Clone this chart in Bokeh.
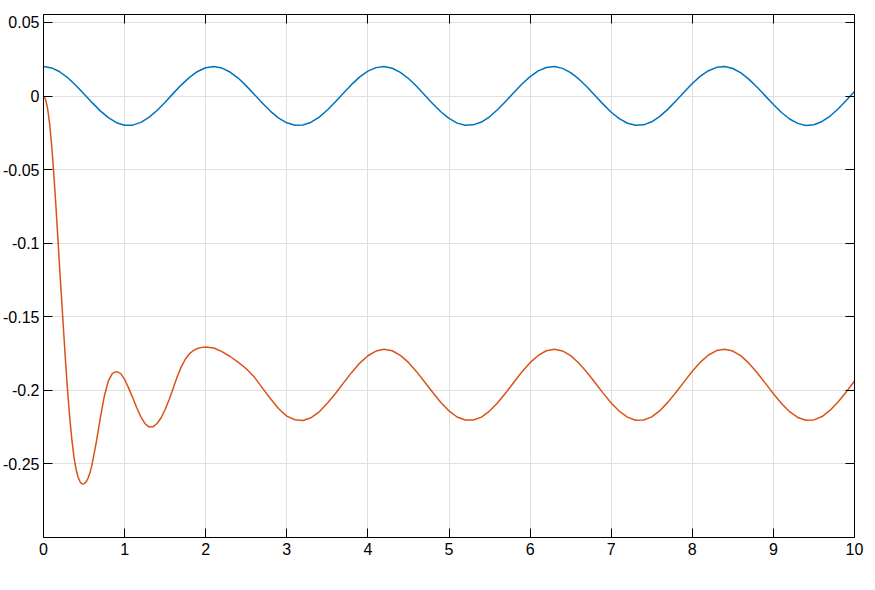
import numpy as np
from bokeh.plotting import figure
from bokeh.models import LinearAxis, FixedTicker, CustomJSTickFormatter, Range1d
from bokeh.embed import file_html
from bokeh.resources import INLINE

# ---------------- data ----------------
x_ticks = [0, 1, 2, 3, 4, 5, 6, 7, 8, 9, 10]
y_ticks = [-0.25, -0.2, -0.15, -0.1, -0.05, 0, 0.05]

# time grid (s)
t_grid = [round(i * 0.1, 1) for i in range(101)]

# blue series
blue_y = [
    0.0200, 0.0191, 0.0165, 0.0124, 0.0072, 0.0014, -0.0045, -0.0101, -0.0147, -0.0181,
    -0.0198, -0.0198, -0.0179, -0.0145, -0.0098, -0.0042, 0.0018, 0.0076, 0.0127, 0.0167,
    0.0192, 0.0200, 0.0190, 0.0163, 0.0122, 0.0069, 0.0011, -0.0049, -0.0104, -0.0150,
    -0.0182, -0.0198, -0.0197, -0.0178, -0.0143, -0.0095, -0.0039, 0.0021, 0.0079, 0.0130,
    0.0169, 0.0193, 0.0200, 0.0189, 0.0161, 0.0119, 0.0066, 0.0007, -0.0052, -0.0107,
    -0.0152, -0.0184, -0.0199, -0.0196, -0.0177, -0.0141, -0.0092, -0.0036, 0.0024, 0.0082,
    0.0132, 0.0171, 0.0194, 0.0200, 0.0188, 0.0159, 0.0116, 0.0063, 0.0004, -0.0055,
    -0.0110, -0.0154, -0.0185, -0.0199, -0.0196, -0.0175, -0.0138, -0.0089, -0.0032, 0.0027,
    0.0085, 0.0135, 0.0172, 0.0195, 0.0200, 0.0187, 0.0157, 0.0113, 0.0060, 0.0001,
    -0.0058, -0.0112, -0.0156, -0.0186, -0.0200, -0.0195, -0.0173, -0.0136, -0.0086, -0.0029,
    0.0031,
]

# orange series: dense early part
orange_t_a = [0.0, 0.025, 0.05, 0.075, 0.1, 0.125, 0.15, 0.175, 0.2, 0.225, 0.25, 0.275,
              0.3, 0.325, 0.35, 0.375, 0.4, 0.425, 0.45, 0.475, 0.5, 0.525, 0.55, 0.575, 0.6]
orange_y_a = [0.0, -0.0021, -0.0083, -0.0186, -0.0331, -0.0513, -0.0720, -0.0945, -0.1178,
              -0.1395, -0.1615, -0.1830, -0.2025, -0.2195, -0.2335, -0.2450, -0.2533, -0.2587,
              -0.2621, -0.2637, -0.2635, -0.2622, -0.2596, -0.2556, -0.2500]
orange_t_b = [0.65, 0.7, 0.75, 0.8, 0.85, 0.9, 0.95, 1.0, 1.05, 1.1, 1.15, 1.2, 1.25, 1.3,
              1.35, 1.4, 1.45, 1.5, 1.55, 1.6, 1.65, 1.7, 1.75, 1.8, 1.85, 1.9, 1.95, 2.0]
orange_y_b = [-0.2355, -0.2190, -0.2040, -0.1935, -0.1885, -0.1873, -0.1885, -0.1925, -0.1985,
              -0.2050, -0.2118, -0.2180, -0.2225, -0.2248, -0.2248, -0.2225, -0.2186, -0.2130,
              -0.2062, -0.1984, -0.1906, -0.1839, -0.1787, -0.1751, -0.1729, -0.1715, -0.1708,
              -0.1705]
# orange series: t = 2.1 ... 10.0
orange_y_c = [
    -0.1712, -0.1737, -0.1770, -0.1808, -0.1853, -0.1910, -0.1985, -0.2057, -0.2125,
    -0.2175, -0.2200, -0.2205, -0.2186, -0.2146, -0.2088, -0.2021, -0.1949, -0.1878, -0.1815,
    -0.1765, -0.1733, -0.1721, -0.1731, -0.1762, -0.1810, -0.1873, -0.1943, -0.2015, -0.2083,
    -0.2140, -0.2181, -0.2202, -0.2202, -0.2182, -0.2141, -0.2084, -0.2017, -0.1945, -0.1874,
    -0.1812, -0.1763, -0.1731, -0.1721, -0.1732, -0.1764, -0.1814, -0.1877, -0.1947, -0.2019,
    -0.2086, -0.2142, -0.2182, -0.2203, -0.2202, -0.2180, -0.2138, -0.2080, -0.2013, -0.1941,
    -0.1870, -0.1808, -0.1760, -0.1730, -0.1721, -0.1733, -0.1766, -0.1817, -0.1880, -0.1951,
    -0.2023, -0.2090, -0.2145, -0.2184, -0.2203, -0.2201, -0.2178, -0.2135, -0.2077, -0.2009,
    -0.1937,
]

orange_t = orange_t_a + orange_t_b + t_grid[21:]
orange_y = orange_y_a + orange_y_b + orange_y_c
n = min(len(orange_t), len(orange_y))
orange_t, orange_y = orange_t[:n], orange_y[:n]

BLUE = "#0072BD"
ORANGE = "#D95319"
FONT = "Liberation Sans"
GRID = "#dfdfdf"

# ---------------- figure ----------------
p = figure(width=866, height=580,
           x_range=Range1d(0, 10), y_range=Range1d(-0.3, 0.0554),
           output_backend="svg", toolbar_location=None,
           min_border_left=41, min_border_right=12, min_border_top=14, min_border_bottom=43,
           background_fill_color="white", border_fill_color="white")
p.outline_line_color = None

fmt = CustomJSTickFormatter(code="return tick.toString();")
blank = CustomJSTickFormatter(code="return '';")

def style_axis(ax, ticks, formatter, labels=True):
    ax.ticker = FixedTicker(ticks=ticks)
    ax.formatter = formatter
    ax.axis_line_color = "black"
    ax.axis_line_width = 1
    ax.major_tick_line_color = "black"
    ax.major_tick_line_width = 1
    ax.major_tick_in = 9
    ax.major_tick_out = 0
    ax.minor_tick_line_color = None
    ax.major_label_text_font = FONT
    ax.major_label_text_font_size = "16px" if labels else "0px"
    ax.major_label_text_color = "black"

style_axis(p.xaxis[0], x_ticks, fmt)
p.xaxis[0].major_label_standoff = 5
style_axis(p.yaxis[0], y_ticks, fmt)
p.yaxis[0].major_label_standoff = 4

top = LinearAxis()
style_axis(top, x_ticks, blank, labels=False)
top.major_label_standoff = 0
p.add_layout(top, "above")
right = LinearAxis()
style_axis(right, y_ticks, blank, labels=False)
right.major_label_standoff = 0
p.add_layout(right, "right")

p.xgrid.ticker = FixedTicker(ticks=x_ticks)
p.ygrid.ticker = FixedTicker(ticks=y_ticks)
for g in (p.xgrid[0], p.ygrid[0]):
    g.grid_line_color = GRID
    g.grid_line_width = 1

p.line(t_grid, blue_y, line_color=BLUE, line_width=1.5)
p.line(orange_t, orange_y, line_color=ORANGE, line_width=1.5)

open("out.html", "w").write(file_html(p, INLINE))
